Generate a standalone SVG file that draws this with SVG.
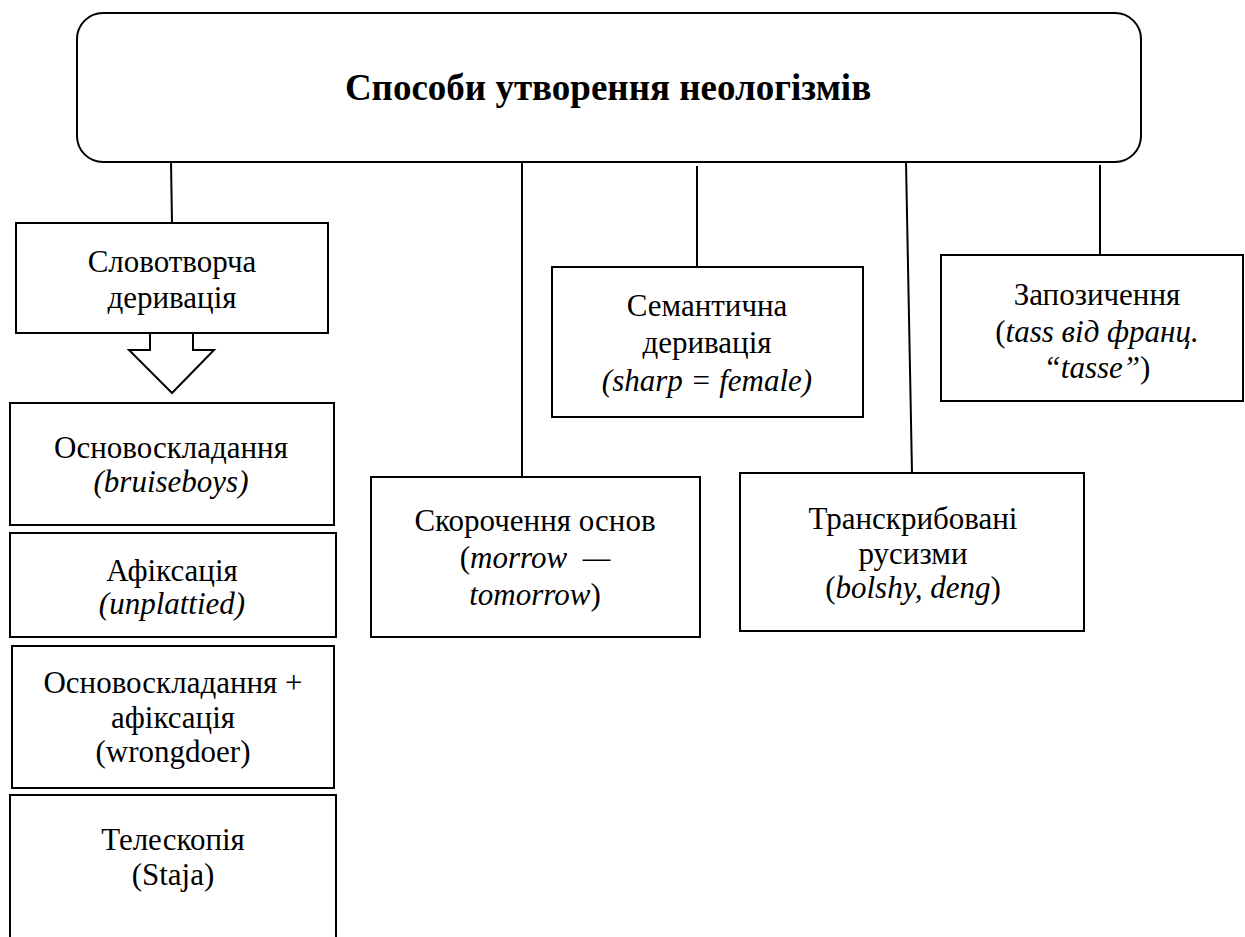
<svg xmlns="http://www.w3.org/2000/svg" width="1245" height="937" viewBox="0 0 1245 937">
<style>
.box{fill:#fff;stroke:#000;stroke-width:2}
.ln{stroke:#000;stroke-width:2;fill:none}
</style>
<rect width="1245" height="937" fill="#fff"/>
<g id="connectors">
<line class="ln" x1="171" y1="162" x2="172" y2="223"/>
<line class="ln" x1="522" y1="162" x2="522" y2="477"/>
<line class="ln" x1="697" y1="166" x2="697" y2="267"/>
<line class="ln" x1="906" y1="162" x2="912" y2="473"/>
<line class="ln" x1="1100" y1="165" x2="1100" y2="255"/>
</g>
<g id="root">
<rect class="box" x="77" y="13" width="1064" height="149" rx="26"/>
<text font-family="'Liberation Serif', serif" font-size="37" font-weight="bold" text-anchor="middle" x="608" y="100">Способи утворення неологізмів</text>
</g>
<g id="slovotvorcha">
<rect class="box" x="16" y="223" width="312" height="110"/>
<text font-family="'Liberation Serif', serif" font-size="31" text-anchor="middle" x="172" y="272">Словотворча</text>
<text font-family="'Liberation Serif', serif" font-size="31" text-anchor="middle" x="172" y="308">деривація</text>
</g>
<g id="arrow">
<polygon class="box" points="150,333 193,333 193,350 214,350 172,393 129,350 150,350"/>
</g>
<g id="osnovoskladannya">
<rect class="box" x="10" y="403" width="324" height="122"/>
<text font-family="'Liberation Serif', serif" font-size="31" text-anchor="middle" x="171" y="458">Основоскладання</text>
<text font-family="'Liberation Serif', serif" font-size="31" font-style="italic" text-anchor="middle" x="171" y="492">(bruiseboys)</text>
</g>
<g id="afiksatsiya">
<rect class="box" x="10" y="533" width="326" height="104"/>
<text font-family="'Liberation Serif', serif" font-size="31" text-anchor="middle" x="172" y="581">Афіксація</text>
<text font-family="'Liberation Serif', serif" font-size="31" font-style="italic" text-anchor="middle" x="172" y="614">(unplattied)</text>
</g>
<g id="osnovo-afiks">
<rect class="box" x="12" y="646" width="322" height="142"/>
<text font-family="'Liberation Serif', serif" font-size="31" text-anchor="middle" x="173" y="693">Основоскладання +</text>
<text font-family="'Liberation Serif', serif" font-size="31" text-anchor="middle" x="173" y="728">афіксація</text>
<text font-family="'Liberation Serif', serif" font-size="31" text-anchor="middle" x="173" y="762">(wrongdoer)</text>
</g>
<g id="teleskopiya">
<rect class="box" x="10" y="795" width="326" height="160"/>
<text font-family="'Liberation Serif', serif" font-size="31" text-anchor="middle" x="173" y="850">Телескопія</text>
<text font-family="'Liberation Serif', serif" font-size="31" text-anchor="middle" x="173" y="885">(Staja)</text>
</g>
<g id="semantychna">
<rect class="box" x="552" y="267" width="311" height="150"/>
<text font-family="'Liberation Serif', serif" font-size="31" text-anchor="middle" x="707" y="316">Семантична</text>
<text font-family="'Liberation Serif', serif" font-size="31" text-anchor="middle" x="707" y="353">деривація</text>
<text font-family="'Liberation Serif', serif" font-size="31" font-style="italic" text-anchor="middle" x="707" y="391">(sharp = female)</text>
</g>
<g id="skorochennya">
<rect class="box" x="371" y="477" width="329" height="160"/>
<text font-family="'Liberation Serif', serif" font-size="31" text-anchor="middle" x="535" y="531">Скорочення основ</text>
<text font-family="'Liberation Serif', serif" font-size="31" text-anchor="middle" x="535" y="568">(<tspan font-style="italic">morrow&#160; —</tspan></text>
<text font-family="'Liberation Serif', serif" font-size="31" text-anchor="middle" x="535" y="605"><tspan font-style="italic">tomorrow</tspan>)</text>
</g>
<g id="transkrybovani">
<rect class="box" x="740" y="473" width="344" height="158"/>
<text font-family="'Liberation Serif', serif" font-size="31" text-anchor="middle" x="913" y="529">Транскрибовані</text>
<text font-family="'Liberation Serif', serif" font-size="31" text-anchor="middle" x="913" y="564">русизми</text>
<text font-family="'Liberation Serif', serif" font-size="31" text-anchor="middle" x="913" y="598">(<tspan font-style="italic">bolshy, deng</tspan>)</text>
</g>
<g id="zapozychennya">
<rect class="box" x="941" y="255" width="302" height="146"/>
<text font-family="'Liberation Serif', serif" font-size="31" text-anchor="middle" x="1097" y="305">Запозичення</text>
<text font-family="'Liberation Serif', serif" font-size="31" text-anchor="middle" x="1097" y="342">(<tspan font-style="italic">tass від франц.</tspan></text>
<text font-family="'Liberation Serif', serif" font-size="31" text-anchor="middle" x="1097" y="378"><tspan font-style="italic">“tasse”</tspan>)</text>
</g>
</svg>
